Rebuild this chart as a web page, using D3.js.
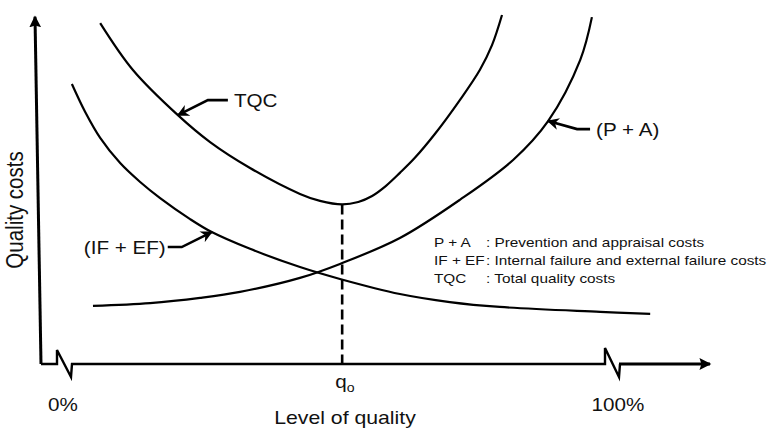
<!DOCTYPE html>
<html>
<head>
<meta charset="utf-8">
<script src="https://cdn.jsdelivr.net/npm/d3@7"></script>
<style>
  html, body { margin: 0; padding: 0; background: #fff; }
  svg { display: block; }
  text { font-family: "Liberation Sans", Arial, sans-serif; fill: #111; }
</style>
</head>
<body>
<svg id="chart" width="771" height="431"></svg>
<script>
// ---- data (x: level of quality %, y: relative cost) ----
const xTickLabels = ["0%", "100%"];
const xTickValues = [0, 100];
const qoValue = 50.3;
const qoLabel = "q";
const qoSub = "o";

const tqcX = [6.7, 12.6, 20.7, 26.5, 33.7, 42.7, 46.3, 50.3, 53.2, 55.7, 58.2, 60.7, 63.4, 67.0, 71.5, 75.1, 77.3, 79.1];
const tqcY = [97.4, 84.0, 71.1, 63.4, 56.0, 48.6, 46.6, 45.6, 46.3, 48.0, 50.9, 54.6, 58.9, 65.7, 75.4, 84.0, 91.1, 99.7];

const failX = [1.6, 4.0, 6.7, 10.3, 13.9, 17.5, 22.9, 26.8, 33.7, 42.7, 49.9, 60.7, 69.7, 78.7, 96.8, 105.8];
const failY = [80.0, 72.0, 64.6, 57.4, 52.0, 47.4, 41.4, 37.7, 32.9, 27.7, 24.3, 20.0, 17.7, 16.3, 14.9, 14.3];

const paX = [5.4, 15.7, 24.7, 31.9, 42.7, 49.9, 60.7, 71.5, 81.1, 87.4, 93.2, 95.3];
const paY = [16.6, 17.4, 18.9, 20.6, 24.6, 28.6, 36.0, 46.9, 58.3, 69.4, 86.9, 99.1];

const seriesNames = ["TQC", "(IF + EF)", "(P + A)"];
const legendKeys = ["P + A", "IF + EF", "TQC"];
const legendDescs = [": Prevention and appraisal costs",
                     ": Internal failure and external failure costs",
                     ": Total quality costs"];
const xTitle = "Level of quality";
const yTitle = "Quality costs";

// ---- setup ----
const svg = d3.select("#chart");
const STRETCH = 1.18;
const x = d3.scaleLinear().domain([0, 100]).range([63, 618]);
const y = d3.scaleLinear().domain([0, 100]).range([364, 14]);

const defs = svg.append("defs");
defs.append("marker").attr("id", "ah")
  .attr("viewBox", "0 0 10 10").attr("refX", 9).attr("refY", 5)
  .attr("markerWidth", 4.6).attr("markerHeight", 4.6)
  .attr("markerUnits", "strokeWidth").attr("orient", "auto-start-reverse")
  .append("path").attr("d", "M0,0 L10,5 L0,10 L3,5 Z").attr("fill", "#000");
defs.append("marker").attr("id", "axh")
  .attr("viewBox", "0 0 10 10").attr("refX", 8).attr("refY", 5)
  .attr("markerWidth", 4.4).attr("markerHeight", 4.4)
  .attr("markerUnits", "strokeWidth").attr("orient", "auto")
  .append("path").attr("d", "M0,0.5 L9,5 L0,9.5 L1.5,5 Z").attr("fill", "#000");

function sText(g, px, py, str, size, anchor) {
  return g.append("text")
    .attr("transform", `translate(${px},${py}) scale(${STRETCH},1)`)
    .attr("font-size", size)
    .attr("text-anchor", anchor || "start")
    .text(str);
}

// ---- axes ----
const x0 = x(0), x100 = x(100), yb = y(0);
// y axis (slightly slanted as in the original)
svg.append("path")
  .attr("d", `M${x0 - 22},${yb} L${x0 - 28},${y(99.2)}`)
  .attr("stroke", "#000").attr("stroke-width", 3).attr("fill", "none")
  .attr("marker-end", "url(#axh)");
// x axis with breaks at 0% and 100%
const xAxisPath = d3.path();
xAxisPath.moveTo(x0 - 22, yb);
xAxisPath.lineTo(x0 - 6, yb);
xAxisPath.lineTo(x0 - 6, yb - 14);
xAxisPath.lineTo(x0 + 8, yb + 13);
xAxisPath.lineTo(x0 + 9, yb);
xAxisPath.lineTo(x100 - 13, yb);
xAxisPath.lineTo(x100 - 13, yb - 16);
xAxisPath.lineTo(x100 + 1, yb + 13);
xAxisPath.lineTo(x100 + 2, yb);
svg.append("path").attr("d", xAxisPath.toString())
  .attr("stroke", "#000").attr("stroke-width", 2.4).attr("fill", "none")
  .attr("stroke-linejoin", "miter");
svg.append("path")
  .attr("d", `M${x100 + 1},${yb} L${x100 + 92},${yb}`)
  .attr("stroke", "#000").attr("stroke-width", 3).attr("fill", "none")
  .attr("marker-end", "url(#axh)");

// tick labels
xTickValues.forEach((v, i) => {
  sText(svg, x(v), 411, xTickLabels[i], 17.5, "middle");
});
// q_o
const qoText = svg.append("text")
  .attr("transform", `translate(${x(qoValue) - 7},${388}) scale(${STRETCH},1)`)
  .attr("font-size", 17.5);
qoText.append("tspan").text(qoLabel);
qoText.append("tspan").attr("font-size", 12).attr("dy", 4).text(qoSub);

// axis titles
sText(svg, 345, 424, xTitle, 18, "middle");
svg.append("text")
  .attr("transform", `translate(23,${210}) rotate(-90) scale(1,${STRETCH})`)
  .attr("font-size", 20.5).attr("text-anchor", "middle")
  .text(yTitle);

// ---- curves ----
const line = d3.line().x(d => x(d[0])).y(d => y(d[1]))
  .curve(d3.curveCatmullRom.alpha(0.5));
const tqc = d3.zip(tqcX, tqcY);
const fail = d3.zip(failX, failY);
const pa = d3.zip(paX, paY);
[tqc, fail, pa].forEach(s => {
  svg.append("path").attr("d", line(s))
    .attr("fill", "none").attr("stroke", "#000").attr("stroke-width", 2.2);
});

// dashed q_o line
const tqcMin = tqc[d3.minIndex(tqc, d => d[1])];
svg.append("line")
  .attr("x1", x(qoValue)).attr("x2", x(qoValue))
  .attr("y1", y(tqcMin[1])).attr("y2", yb)
  .attr("stroke", "#000").attr("stroke-width", 2.6)
  .attr("stroke-dasharray", "10,5");

// ---- annotations (leader arrows) ----
function leader(pt, dx1, dy1, dx2, label, side) {
  const tx = x(pt[0]), ty = y(pt[1]);
  const p = d3.path();
  p.moveTo(tx + dx1 + dx2, ty + dy1);
  p.lineTo(tx + dx1, ty + dy1);
  p.lineTo(tx, ty);
  svg.append("path").attr("d", p.toString())
    .attr("fill", "none").attr("stroke", "#000").attr("stroke-width", 2.6)
    .attr("marker-end", "url(#ah)");
  const lx = tx + dx1 + dx2 + (side === "end" ? -2 : 6);
  sText(svg, lx, ty + dy1 + 6.5, label, 17.5, side === "end" ? "end" : "start");
}
leader(tqc[2], 30, -15, 20, seriesNames[0], "start");
leader(fail[7], -30, 15, -14, seriesNames[1], "end");
leader(pa[9], 29, 8, 13, seriesNames[2], "start");

// ---- legend ----
legendKeys.forEach((k, i) => {
  const by = 247 + i * 17.8;
  sText(svg, 434, by, k, 13, "start");
  sText(svg, 486, by, legendDescs[i], 13, "start");
});
</script>
</body>
</html>
